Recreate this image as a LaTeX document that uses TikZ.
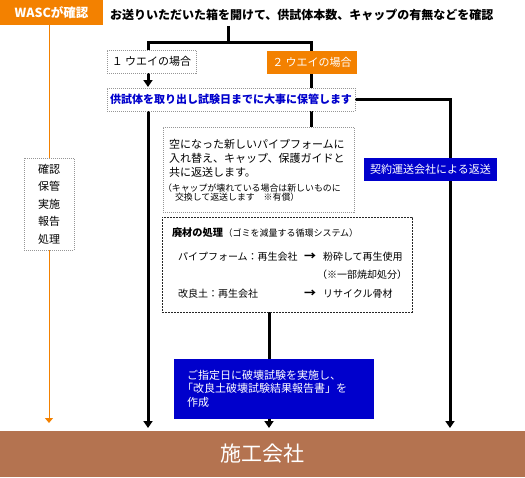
\documentclass[tikz,border=0pt]{standalone}
\usepackage{fontspec}
\setmainfont{Noto Sans CJK JP}
\usetikzlibrary{arrows.meta,backgrounds}
\definecolor{wascorange}{RGB}{243,129,0}
\definecolor{dblue}{RGB}{0,0,204}
\definecolor{bandbrown}{RGB}{180,115,80}
\definecolor{dotgray}{RGB}{150,150,150}
\begin{document}
\begin{tikzpicture}[x=1pt,y=-1pt,
  every node/.style={inner sep=0pt, outer sep=0pt},
  boxbase/.style={anchor=north west, align=center},
  dotbox/.style={boxbase, draw=dotgray, line width=0.7pt, dash pattern=on 1pt off 1pt, fill=white},
  dashbox/.style={boxbase, draw=black!85, line width=0.8pt, dash pattern=on 2pt off 1pt, fill=white},
  orangebox/.style={boxbase, fill=wascorange, text=white},
  bluebox/.style={boxbase, fill=dblue, text=white},
  txt/.style={anchor=west},
  blk/.style={draw=black, line width=3pt},
  blkarrow/.style={blk, -{Triangle[width=9pt,length=7pt]}},
  orng/.style={draw=wascorange, line width=1pt},
  orngarrow/.style={orng, -{Triangle[width=8pt,length=5pt]}},
  fa/.style={font=\fontsize{11}{13}\selectfont},
  fb/.style={font=\fontsize{10}{12}\selectfont},
  fs/.style={font=\fontsize{8.9}{10}\selectfont},
]
\useasboundingbox (0,0) rectangle (525,477);

% top
\node[orangebox, minimum width=103pt, minimum height=25pt, font=\bfseries\fontsize{12.5}{14}\selectfont] (wasc) at (0,0) {WASCが確認};
\node[txt, inner ysep=5pt, font=\bfseries\fontsize{12}{14}\selectfont] (hdr) at (110,15) {お送りいただいた箱を開けて、供試体本数、キャップの有無などを確認};
\coordinate (J) at (228,42);
\coordinate (L) at (148,42);
\coordinate (R) at (311,42);
\coordinate (X) at (450,0);
\coordinate (M) at (269,0);

\node[dotbox, minimum width=89pt, minimum height=23pt, fa] (one) at (107,50) {１ ウエイの場合};
\node[orangebox, minimum width=90pt, minimum height=23pt, fa] (two) at (267,51) {２ ウエイの場合};
\node[dotbox, minimum width=248pt, minimum height=23pt, text=dblue, font=\bfseries\fontsize{11}{13}\selectfont] (blue1) at (107,88) {供試体を取り出し試験日までに大事に保管します};

% left column
\node[dotbox, minimum width=50pt, minimum height=92pt, font=\fontsize{11}{17.5}\selectfont] (kanji) at (24,158) {確認\\保管\\実施\\報告\\処理};

% return box
\node[dotbox, minimum width=191pt, minimum height=85pt] (kara) at (163,127) {};
\node[txt, fa] (k1) at (169,144) {空になった新しいパイプフォームに};
\node[txt, fa] (k2) at (169,158) {入れ替え、キャップ、保護ガイドと};
\node[txt, fa] (k3) at (169,172) {共に返送します。};
\node[txt, fs] (k4) at (163,188) {（キャップが壊れている場合は新しいものに};
\node[txt, fs] (k5) at (175,197.5) {交換して返送します　※有償）};

% waste box
\node[dashbox, minimum width=250pt, minimum height=95pt] (waste) at (162,217) {};
\node[txt, font=\bfseries\fontsize{10.2}{12}\selectfont] (w1) at (172,233) {廃材の処理};
\node[txt, font=\fontsize{9}{10}\selectfont] (w2) at (223.5,233) {（ゴミを減量する循環システム）};
\node[txt, fb] (w3) at (178,257) {パイプフォーム：再生会社};
\node[txt, font=\bfseries\fontsize{12}{12}\selectfont] (w4) at (304,257) {→};
\node[txt, fb] (w5) at (323,257) {粉砕して再生使用};
\node[anchor=east, fb] (w6) at (407,275) {（※一部焼却処分）};
\node[txt, fb] (w7) at (178,294) {改良土：再生会社};
\node[txt, font=\bfseries\fontsize{12}{12}\selectfont] (w8) at (304,294) {→};
\node[txt, fb] (w9) at (323,294) {リサイクル骨材};

% blue boxes
\node[bluebox, minimum width=200pt, minimum height=60pt] (blue2) at (174,359) {};
\node[txt, fa, text=white] (b1) at (187,375) {ご指定日に破壊試験を実施し、};
\node[txt, fa, text=white] (b2) at (182,388.5) {「改良土破壊試験結果報告書」を};
\node[txt, fa, text=white] (b3) at (187,402) {作成};
\node[bluebox, minimum width=133pt, minimum height=23pt, fa] (keiyaku) at (364,158) {契約運送会社による返送};

% band
\node[boxbase, fill=bandbrown, text=white, minimum width=525pt, minimum height=46pt, font=\fontsize{21}{24}\selectfont] (band) at (0,431) {施工会社};

\begin{pgfonlayer}{background}
  \draw[blk] (hdr.south -| J) -- (J);
  \draw[blk, line join=miter] (one.north -| L) -- (L) -- (R) -- (kara.north -| R);
  \draw[blkarrow] (one.south -| L) -- ([yshift=1pt]blue1.north -| L);
  \draw[blkarrow] (blue1.south -| L) -- ([yshift=3pt]band.north -| L);
  \draw[blkarrow] (blue1.east) -| ([yshift=3pt]band.north -| X);
  \draw[blk] (waste.south -| M) -- (blue2.north -| M);
  \draw[blkarrow] (blue2.south -| M) -- ([yshift=3pt]band.north -| M);
  \draw[orng] (wasc.south -| kanji) -- (kanji.north);
  \draw[orngarrow] (kanji.south) -- ([yshift=8pt]band.north -| kanji);
\end{pgfonlayer}
\end{tikzpicture}
\end{document}
